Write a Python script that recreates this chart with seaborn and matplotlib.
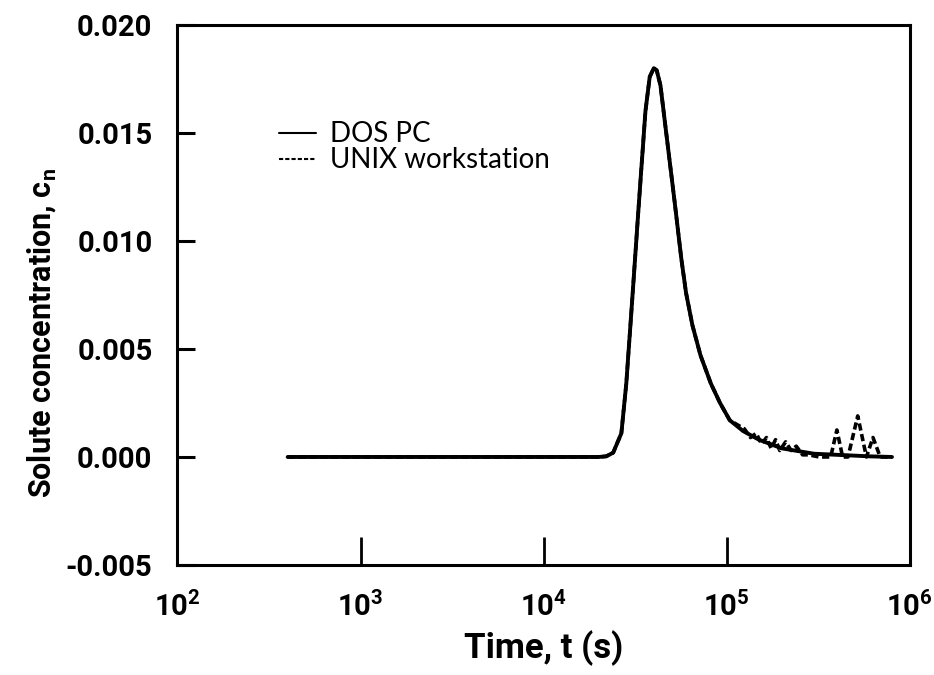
import numpy as np
import pandas as pd
import matplotlib
matplotlib.use("Agg")
import matplotlib.pyplot as plt
import matplotlib.ticker as mticker
import seaborn as sns

# Valores
tempo_dos = [4e2, 1e3, 1e4, 2.0e4, 2.2e4, 2.4e4, 2.66e4, 2.83e4, 3.05e4, 3.3e4,
             3.6e4, 3.8e4, 4.0e4, 4.15e4, 4.35e4, 4.6e4, 5.2e4, 5.65e4, 6.0e4,
             6.5e4, 7.2e4, 8.2e4, 9.2e4, 1.04e5, 1.23e5, 1.5e5, 2.0e5, 3.0e5,
             4.0e5, 6.0e5, 8.0e5]
conc_dos = [0.0, 0.0, 0.0, 0.0, 0.00003, 0.0002, 0.0011, 0.0034, 0.0073, 0.0115,
            0.0160, 0.0176, 0.0180, 0.0179, 0.0172, 0.0155, 0.0118, 0.0092, 0.0076,
            0.0061, 0.0047, 0.0034, 0.0025, 0.0017, 0.0012, 0.0008, 0.0004, 0.00015,
            0.0001, 0.00003, 0.0]

tempo_unix = tempo_dos[:24] + [1.25e5, 1.35e5, 1.45e5, 1.55e5, 1.65e5, 1.75e5,
                               1.85e5, 1.95e5, 2.1e5, 2.25e5, 2.4e5, 2.6e5, 2.8e5,
                               3.2e5, 3.7e5, 4.0e5, 4.3e5, 4.6e5, 5.2e5, 5.8e5,
                               6.3e5, 6.9e5, 8.0e5]
conc_unix = conc_dos[:24] + [0.0013, 0.0009, 0.0011, 0.0006, 0.0009, 0.0004,
                             0.0008, 0.0003, 0.0007, 0.0003, 0.0005, 0.0001, 0.0001,
                             0.0, 0.0, 0.00125, 0.0, 0.0, 0.0019, 0.0,
                             0.0009, 0.0, 0.0]

series_nomes = ["DOS PC", "UNIX workstation"]
x_ticks = [1e2, 1e3, 1e4, 1e5, 1e6]
y_ticks = [-0.005, 0.0, 0.005, 0.010, 0.015, 0.020]

sns.set_style("ticks")
plt.rcParams["font.family"] = ["Roboto", "DejaVu Sans"]
plt.rcParams["text.color"] = "black"
plt.rcParams["axes.labelcolor"] = "black"
plt.rcParams["xtick.color"] = "black"
plt.rcParams["ytick.color"] = "black"
plt.rcParams["axes.edgecolor"] = "black"
plt.rcParams["mathtext.fontset"] = "custom"
plt.rcParams["mathtext.rm"] = "Roboto:bold"
plt.rcParams["mathtext.bf"] = "Roboto:bold"
plt.rcParams["mathtext.it"] = "Roboto:bold"

dos = pd.DataFrame({"t": tempo_dos, "c": conc_dos})
unix = pd.DataFrame({"t": tempo_unix, "c": conc_unix})

fig, ax = plt.subplots(figsize=(9.34, 6.75), dpi=100)
fig.subplots_adjust(left=0.19, right=0.974, top=0.963, bottom=0.163)

sns.lineplot(data=unix, x="t", y="c", ax=ax, color="black", lw=2.6,
             estimator=None, sort=False, label=series_nomes[1],
             dashes=False, linestyle=(0, (2.0, 1.0)))
sns.lineplot(data=dos, x="t", y="c", ax=ax, color="black", lw=2.8,
             estimator=None, sort=False, label=series_nomes[0])

ax.set_xscale("log")
ax.set_xlim(1e2, 1e6)
ax.set_ylim(-0.005, 0.020)
ax.set_xticks(x_ticks)
ax.xaxis.set_major_formatter(mticker.FuncFormatter(
    lambda v, p: r"$\mathbf{10^{%d}}$" % round(np.log10(v))))
ax.xaxis.set_minor_locator(mticker.NullLocator())
ax.set_yticks(y_ticks)
ax.yaxis.set_major_formatter(mticker.FormatStrFormatter("%.3f"))

ax.tick_params(axis="x", direction="in", length=20, width=2, labelsize=21, pad=19)
ax.tick_params(axis="y", direction="in", length=13, width=2.2, labelsize=21, pad=18)
for lab in ax.get_yticklabels():
    lab.set_fontweight("bold")

for s in ax.spines.values():
    s.set_linewidth(2.2)

ax.set_xlabel("Time, t (s)", fontsize=25, fontweight="bold", labelpad=6)
ax.set_ylabel(r"Solute concentration, c$_\mathbf{n}$", fontsize=22,
              fontweight="bold")
ax.yaxis.set_label_coords(-0.163, 0.43)

# Legenda sem moldura, com a ordem original
handles, labels = ax.get_legend_handles_labels()
ordem = [labels.index(n) for n in series_nomes]
leg = ax.legend([handles[i] for i in ordem], [labels[i] for i in ordem],
                loc="upper left", bbox_to_anchor=(0.104, 0.868), frameon=False,
                handlelength=1.35, handletextpad=0.5, labelspacing=0.0,
                prop={"family": "Lato", "size": 20})
for h in leg.get_lines():
    h.set_linewidth(1.5)

plt.savefig("out.png", dpi=100)
